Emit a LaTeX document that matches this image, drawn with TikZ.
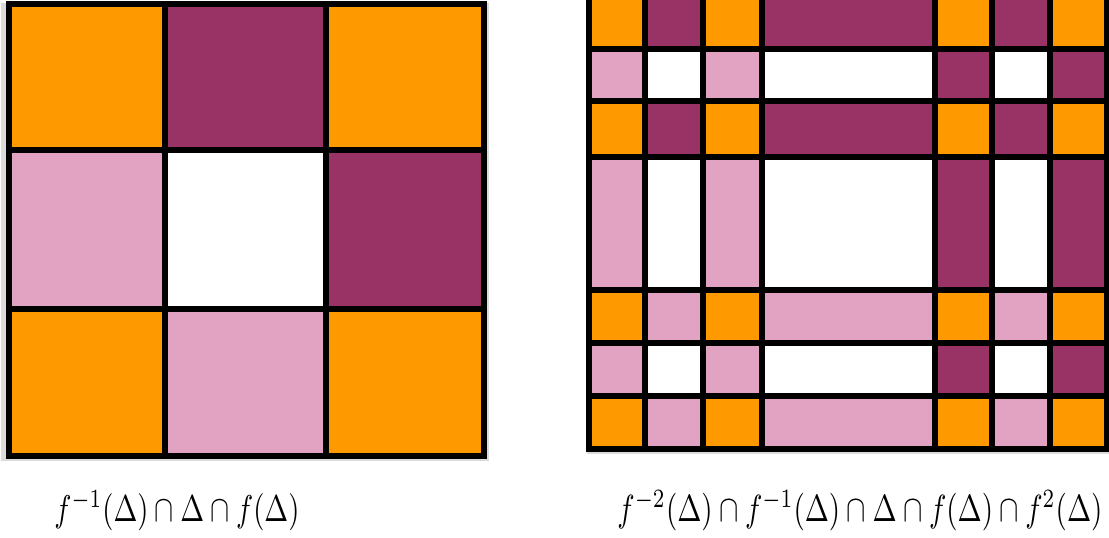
\documentclass[tikz,border=0pt]{standalone}
\usepackage{graphicx}
\definecolor{orng}{RGB}{255,153,0}
\definecolor{purp}{RGB}{153,51,102}
\definecolor{pnk}{RGB}{226,163,195}
\tikzset{gridline/.style={line width=5.5pt,black}}
\begin{document}
\begin{tikzpicture}[x=1pt,y=-1pt]
\useasboundingbox (0,0) rectangle (1109,538);
% left grid shadow
\fill[black!14] (1,3) rectangle (489,461);
% left grid cells
\def\LX{{9,165,326,484}}
\def\LY{{4,150,309,456}}
\foreach \r/\cl in {1/{orng,purp,orng},2/{pnk,white,purp},3/{orng,pnk,orng}}{
  \foreach \c [count=\i] in \cl {
    \pgfmathsetmacro\xa{\LX[\i-1]}
    \pgfmathsetmacro\xb{\LX[\i]}
    \pgfmathsetmacro\ya{\LY[\r-1]}
    \pgfmathsetmacro\yb{\LY[\r]}
    \fill[\c] (\xa,\ya) rectangle (\xb,\yb);
  }
}
\foreach \x in {165,326} \draw[gridline] (\x,4) -- (\x,456);
\foreach \y in {150,309} \draw[gridline] (9,\y) -- (484,\y);
\draw[gridline] (9,4) rectangle (484,456);
% right grid shadow
\fill[black!14] (587,0) rectangle (1109,454);
\def\RX{{589,645,703,762,935,992,1050,1107}}
\def\RY{{-3,49,101,157,290,343,396,449}}
\foreach \r/\cl in {
 1/{orng,purp,orng,purp,orng,purp,orng},
 2/{pnk,white,pnk,white,purp,white,purp},
 3/{orng,purp,orng,purp,orng,purp,orng},
 4/{pnk,white,pnk,white,purp,white,purp},
 5/{orng,pnk,orng,pnk,orng,pnk,orng},
 6/{pnk,white,pnk,white,purp,white,purp},
 7/{orng,pnk,orng,pnk,orng,pnk,orng}}{
  \foreach \c [count=\i] in \cl {
    \pgfmathsetmacro\xa{\RX[\i-1]}
    \pgfmathsetmacro\xb{\RX[\i]}
    \pgfmathsetmacro\ya{\RY[\r-1]}
    \pgfmathsetmacro\yb{\RY[\r]}
    \fill[\c] (\xa,\ya) rectangle (\xb,\yb);
  }
}
\foreach \x in {645,703,762,935,992,1050} \draw[gridline] (\x,-3) -- (\x,449);
\foreach \y in {49,101,157,290,343,396} \draw[gridline] (589,\y) -- (1107,\y);
\draw[gridline] (589,-3) rectangle (1107,449);
% labels
\node (lab1) at (177,511) {\scalebox{1}[1.3]{\resizebox{245pt}{!}{$f^{-1}(\Delta)\cap\Delta\cap f(\Delta)$}}};
\node (lab2) at (860,511) {\scalebox{1}[1.3]{\resizebox{485pt}{!}{$f^{-2}(\Delta)\cap f^{-1}(\Delta)\cap\Delta\cap f(\Delta)\cap f^{2}(\Delta)$}}};
\end{tikzpicture}
\end{document}
